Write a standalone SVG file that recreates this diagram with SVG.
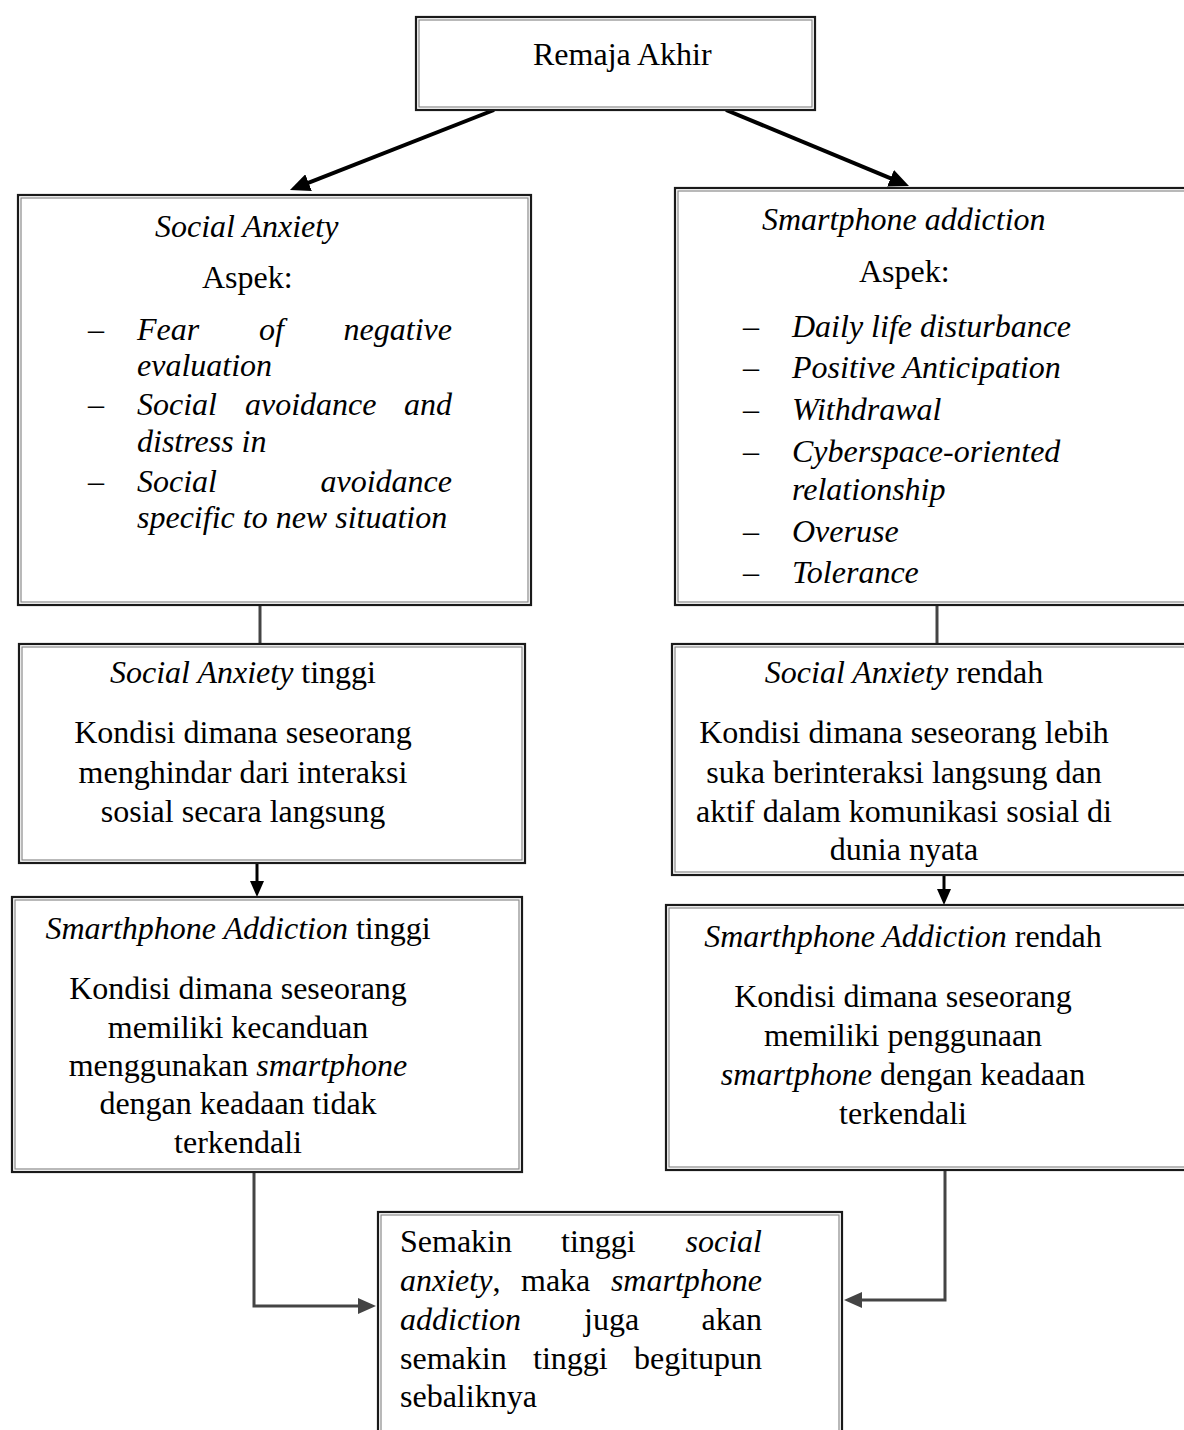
<svg xmlns="http://www.w3.org/2000/svg" width="1184" height="1430" viewBox="0 0 1184 1430">
<style>
.t{font-family:"Liberation Serif","Times New Roman",serif;font-size:32px;fill:#000}
.i{font-style:italic}
.m{text-anchor:middle}
.e{text-anchor:end}
.ob{fill:#fff;stroke:#1a1a1a;stroke-width:2.2}
.ib{fill:none;stroke:#8a8a8a;stroke-width:1.2}
.ck{fill:none;stroke:#000;stroke-width:4}
.cd{fill:none;stroke:#000;stroke-width:3}
.cg{fill:none;stroke:#444;stroke-width:3}
</style>
<defs>
<marker id="ah" markerUnits="userSpaceOnUse" markerWidth="20" markerHeight="18" viewBox="0 0 20 18" refX="12" refY="9" orient="auto"><path d="M0,0 L20,9 L0,18 z" fill="#000"/></marker>
<marker id="ahs" markerUnits="userSpaceOnUse" markerWidth="16" markerHeight="14" viewBox="0 0 16 14" refX="8" refY="7" orient="auto"><path d="M0,0 L16,7 L0,14 z" fill="#000"/></marker>
<marker id="ahg" markerUnits="userSpaceOnUse" markerWidth="18" markerHeight="16" viewBox="0 0 18 16" refX="10" refY="8" orient="auto"><path d="M0,0 L18,8 L0,16 z" fill="#444"/></marker>
</defs>
<rect x="0" y="0" width="1184" height="1430" fill="#fff"/>

<g id="connectors">
<line class="ck" x1="494" y1="110" x2="297.4" y2="187.1" marker-end="url(#ah)"/>
<line class="ck" x1="726" y1="110" x2="901.6" y2="182.9" marker-end="url(#ah)"/>
<line class="cg" x1="260" y1="605" x2="260" y2="644"/>
<line class="cg" x1="937" y1="605" x2="937" y2="644"/>
<line class="cd" x1="257" y1="863" x2="257" y2="889" marker-end="url(#ahs)"/>
<line class="cd" x1="944" y1="875" x2="944" y2="897" marker-end="url(#ahs)"/>
<polyline class="cg" points="254,1172 254,1306 368,1306" marker-end="url(#ahg)"/>
<polyline class="cg" points="945,1170 945,1300 852,1300" marker-end="url(#ahg)"/>
</g>

<g id="node-remaja">
<rect class="ob" x="416" y="17" width="399" height="93"/>
<rect class="ib" x="419" y="20" width="393" height="87"/>
<text class="t" x="533" y="65">Remaja Akhir</text>
</g>

<g id="node-social-anxiety">
<rect class="ob" x="18" y="195" width="513" height="410"/>
<rect class="ib" x="21" y="198" width="507" height="404"/>
<text class="t i" x="155" y="237">Social Anxiety</text>
<text class="t" x="202" y="288">Aspek:</text>
<text class="t" x="88" y="340">–</text>
<text class="t i" x="137" y="340">Fear</text>
<text class="t i" x="259" y="340">of</text>
<text class="t i e" x="452" y="340">negative</text>
<text class="t i" x="137" y="376">evaluation</text>
<text class="t" x="88" y="415">–</text>
<text class="t i" x="137" y="415">Social</text>
<text class="t i" x="245" y="415">avoidance</text>
<text class="t i e" x="452" y="415">and</text>
<text class="t i" x="137" y="452">distress in</text>
<text class="t" x="88" y="492">–</text>
<text class="t i" x="137" y="492">Social</text>
<text class="t i e" x="452" y="492">avoidance</text>
<text class="t i" x="137" y="528">specific to new situation</text>
</g>

<g id="node-smartphone-addiction">
<rect class="ob" x="675" y="188" width="525" height="417"/>
<rect class="ib" x="678" y="191" width="519" height="411"/>
<text class="t i" x="762" y="230">Smartphone addiction</text>
<text class="t" x="859" y="282">Aspek:</text>
<text class="t" x="743" y="337">–</text>
<text class="t i" x="792" y="337">Daily life disturbance</text>
<text class="t" x="743" y="378">–</text>
<text class="t i" x="792" y="378">Positive Anticipation</text>
<text class="t" x="743" y="420">–</text>
<text class="t i" x="792" y="420">Withdrawal</text>
<text class="t" x="743" y="462">–</text>
<text class="t i" x="792" y="462">Cyberspace-oriented</text>
<text class="t i" x="792" y="500">relationship</text>
<text class="t" x="743" y="542">–</text>
<text class="t i" x="792" y="542">Overuse</text>
<text class="t" x="743" y="583">–</text>
<text class="t i" x="792" y="583">Tolerance</text>
</g>

<g id="node-sa-tinggi">
<rect class="ob" x="19" y="644" width="506" height="219"/>
<rect class="ib" x="22" y="647" width="500" height="213"/>
<text class="t m" x="243" y="683"><tspan class="i">Social Anxiety</tspan> tinggi</text>
<text class="t m" x="243" y="743">Kondisi dimana seseorang</text>
<text class="t m" x="243" y="783">menghindar dari interaksi</text>
<text class="t m" x="243" y="822">sosial secara langsung</text>
</g>

<g id="node-sa-rendah">
<rect class="ob" x="672" y="644" width="528" height="231"/>
<rect class="ib" x="675" y="647" width="522" height="225"/>
<text class="t m" x="904" y="683"><tspan class="i">Social Anxiety</tspan> rendah</text>
<text class="t m" x="904" y="743">Kondisi dimana seseorang lebih</text>
<text class="t m" x="904" y="783">suka berinteraksi langsung dan</text>
<text class="t m" x="904" y="822">aktif dalam komunikasi sosial di</text>
<text class="t m" x="904" y="860">dunia nyata</text>
</g>

<g id="node-spa-tinggi">
<rect class="ob" x="12" y="897" width="510" height="275"/>
<rect class="ib" x="15" y="900" width="504" height="269"/>
<text class="t m" x="238" y="939"><tspan class="i">Smarthphone Addiction</tspan> tinggi</text>
<text class="t m" x="238" y="999">Kondisi dimana seseorang</text>
<text class="t m" x="238" y="1038">memiliki kecanduan</text>
<text class="t m" x="238" y="1076">menggunakan <tspan class="i">smartphone</tspan></text>
<text class="t m" x="238" y="1114">dengan keadaan tidak</text>
<text class="t m" x="238" y="1153">terkendali</text>
</g>

<g id="node-spa-rendah">
<rect class="ob" x="666" y="905" width="534" height="265"/>
<rect class="ib" x="669" y="908" width="528" height="259"/>
<text class="t m" x="903" y="947"><tspan class="i">Smarthphone Addiction</tspan> rendah</text>
<text class="t m" x="903" y="1007">Kondisi dimana seseorang</text>
<text class="t m" x="903" y="1046">memiliki penggunaan</text>
<text class="t m" x="903" y="1085"><tspan class="i">smartphone</tspan> dengan keadaan</text>
<text class="t m" x="903" y="1124">terkendali</text>
</g>

<g id="node-kesimpulan">
<rect class="ob" x="378" y="1212" width="464" height="240"/>
<rect class="ib" x="381" y="1215" width="458" height="240"/>
<text class="t" x="400" y="1252">Semakin</text>
<text class="t" x="561" y="1252">tinggi</text>
<text class="t i e" x="762" y="1252">social</text>
<text class="t" x="400" y="1291"><tspan class="i">anxiety</tspan>,</text>
<text class="t" x="521" y="1291">maka</text>
<text class="t i e" x="762" y="1291">smartphone</text>
<text class="t i" x="400" y="1330">addiction</text>
<text class="t" x="584" y="1330">juga</text>
<text class="t e" x="762" y="1330">akan</text>
<text class="t" x="400" y="1369">semakin</text>
<text class="t" x="533" y="1369">tinggi</text>
<text class="t e" x="762" y="1369">begitupun</text>
<text class="t" x="400" y="1407">sebaliknya</text>
</g>
</svg>
